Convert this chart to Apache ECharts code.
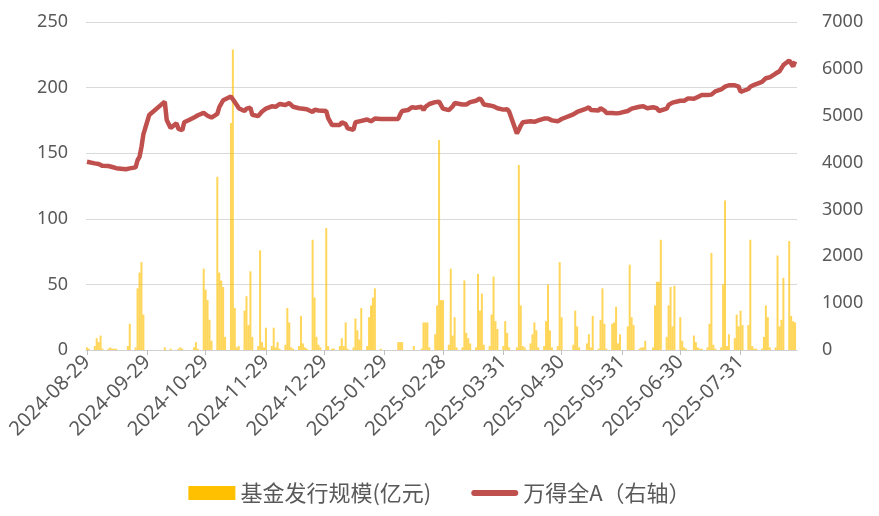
<!DOCTYPE html>
<html>
<head>
<meta charset="utf-8">
<script src="https://cdn.jsdelivr.net/npm/echarts@6/dist/echarts.min.js"></script>
<style>
  html, body { margin: 0; padding: 0; background: #fff; }
  #chart { width: 879px; height: 516px; }
</style>
</head>
<body>
<div id="chart"></div>
<script>
// 非交易日（周末以外）
var holidays = ['2024-09-16', '2024-09-17', '2024-10-01', '2024-10-02', '2024-10-03', '2024-10-04', '2024-10-07',
    '2025-01-01', '2025-01-28', '2025-01-29', '2025-01-30', '2025-01-31', '2025-02-03', '2025-02-04',
    '2025-04-04', '2025-05-01', '2025-05-02', '2025-05-05', '2025-06-02'];

var tickDates = ['2024-08-29', '2024-09-29', '2024-10-29', '2024-11-29', '2024-12-29', '2025-01-29',
    '2025-02-28', '2025-03-31', '2025-04-30', '2025-05-31', '2025-06-30', '2025-07-31'];

// 基金发行规模(亿元)，按月
var issue2408 = [2, 1];
var issue2409 = [3, 9, 6, 11, 1, 1, 2, 1, 1, 1, 0, 3, 20, 2, 47, 59, 67, 27, 0];
var issue2410 = [2, 0, 0, 1, 0, 1, 2, 1, 0, 0, 0, 2, 6, 1, 62, 46, 38, 23];
var issue2411 = [7, 132, 59, 53, 48, 10, 173, 229, 32, 2, 3, 30, 41, 19, 60, 10, 3, 76, 6, 2, 17];
var issue2412 = [3, 17, 2, 6, 1, 4, 32, 21, 2, 1, 3, 26, 5, 2, 1, 84, 40, 10, 4, 2, 93, 3];
var issue2501 = [1, 1, 3, 9, 3, 21, 1, 2, 24, 15, 8, 32, 3, 25, 34, 40, 47, 1];
var issue2502 = [6, 6, 6, 0, 0, 0, 3, 0, 1, 21, 21, 21, 2, 12, 34, 160, 38, 38];
var issue2503 = [4, 62, 11, 25, 2, 2, 53, 13, 9, 5, 2, 58, 30, 43, 4, 3, 27, 56, 22, 16, 3];
var issue2504 = [22, 13, 2, 2, 141, 34, 3, 2, 5, 12, 21, 15, 2, 3, 22, 50, 15, 2, 3, 67, 25];
var issue2505 = [4, 30, 18, 2, 0, 5, 12, 2, 26, 1, 23, 47, 20, 1, 20, 21, 33, 5, 12];
var issue2506 = [18, 65, 25, 19, 1, 2, 2, 7, 0, 2, 34, 52, 52, 84, 10, 34, 48, 18, 49, 25];
var issue2507 = [7, 2, 1, 0, 11, 6, 2, 1, 1, 2, 20, 74, 4, 1, 2, 50, 114, 3, 12, 9, 27, 18, 30];
var issue2508 = [19, 19, 84, 3, 1, 1, 1, 10, 34, 25, 2, 2, 72, 18, 23, 55, 83, 26, 22, 21];

// 万得全A（右轴），按月
var wind2408 = [4018, 3995];
var wind2409 = [3983, 3975, 3969, 3960, 3930, 3927, 3910, 3905, 3898, 3880, 3858, 3855, 3876, 3898, 4050, 4120, 4330, 4600, 5015];
var wind2410 = [5300, 4910, 4880, 4740, 4840, 4720, 4730, 4690, 4860, 4920, 4950, 4960, 4950, 5010, 5060, 5020, 5000, 5020];
var wind2411 = [4960, 5040, 5180, 5200, 5330, 5310, 5410, 5350, 5360, 5230, 5160, 5100, 5150, 5190, 5170, 5020, 4990, 4980, 5090, 5070, 5150];
var wind2412 = [5200, 5210, 5190, 5200, 5250, 5230, 5260, 5270, 5300, 5190, 5160, 5130, 5150, 5130, 5140, 5080, 5130, 5100, 5110, 5120, 5100, 4950];
var wind2501 = [4800, 4760, 4800, 4860, 4830, 4820, 4730, 4700, 4860, 4850, 4880, 4900, 4920, 4930, 4880, 4920, 4940, 4930];
var wind2502 = [4930, 5030, 5100, 5120, 5100, 5180, 5150, 5170, 5190, 5120, 5190, 5230, 5250, 5290, 5250, 5300, 5300, 5150];
var wind2503 = [5120, 5150, 5200, 5270, 5250, 5240, 5250, 5240, 5200, 5290, 5320, 5350, 5370, 5320, 5240, 5220, 5210, 5200, 5210, 5160, 5130];
var wind2504 = [5140, 5140, 5090, 4620, 4700, 4790, 4860, 4880, 4880, 4890, 4870, 4880, 4900, 4940, 4930, 4940, 4920, 4900, 4880, 4900, 4930];
var wind2505 = [5030, 5050, 5080, 5080, 5140, 5150, 5180, 5120, 5110, 5110, 5160, 5170, 5110, 5060, 5060, 5050, 5050, 5080, 5060];
var wind2506 = [5100, 5120, 5150, 5170, 5190, 5170, 5200, 5190, 5160, 5180, 5170, 5160, 5100, 5070, 5150, 5230, 5270, 5280, 5300, 5320];
var wind2507 = [5320, 5320, 5340, 5370, 5360, 5400, 5400, 5430, 5440, 5440, 5430, 5450, 5470, 5520, 5560, 5590, 5620, 5640, 5650, 5650, 5640, 5620, 5510];
var wind2508 = [5520, 5570, 5620, 5660, 5660, 5680, 5720, 5740, 5800, 5770, 5820, 5900, 5910, 5950, 5970, 6080, 6180, 6160, 6050, 6160];

var issueData = [].concat(issue2408, issue2409, issue2410, issue2411, issue2412, issue2501, issue2502,
    issue2503, issue2504, issue2505, issue2506, issue2507, issue2508);
var windData = [].concat(wind2408, wind2409, wind2410, wind2411, wind2412, wind2501, wind2502,
    wind2503, wind2504, wind2505, wind2506, wind2507, wind2508);

function pad(n) { return n < 10 ? '0' + n : '' + n; }
function fmt(d) { return d.getFullYear() + '-' + pad(d.getMonth() + 1) + '-' + pad(d.getDate()); }
function toTime(s) {
    var p = s.split('-');
    return new Date(+p[0], +p[1] - 1, +p[2]).getTime();
}

// 交易日
var tradeDays = [];
for (var d = new Date(2024, 7, 29); d <= new Date(2025, 7, 28); d.setDate(d.getDate() + 1)) {
    var wd = d.getDay();
    if (wd !== 0 && wd !== 6 && holidays.indexOf(fmt(d)) < 0) {
        tradeDays.push(d.getTime());
    }
}

var barSeries = tradeDays.map(function (t, i) { return [t, issueData[i]]; });
var lineSeries = tradeDays.map(function (t, i) { return [t, windData[i]]; });
var ticks = tickDates.map(toTime);

var font = "'Noto Sans', 'Noto Sans CJK SC', sans-serif";
var chart = echarts.init(document.getElementById('chart'));
chart.setOption({
    animation: false,
    backgroundColor: '#fff',
    textStyle: { fontFamily: font },
    grid: { left: 86, right: 82, top: 22, bottom: 166 },
    legend: {
        bottom: 7,
        left: 'center',
        itemWidth: 47,
        itemHeight: 14,
        itemGap: 40,
        textStyle: { color: '#595959', fontSize: 22, fontFamily: "'Noto Sans CJK SC', sans-serif" },
        data: [
            { name: '基金发行规模(亿元)', icon: 'rect', itemStyle: { color: '#FFC000', opacity: 1 } },
            {
                name: '万得全A（右轴）',
                icon: 'path://M3,0 H44 A3,3 0 0 1 44,6 H3 A3,3 0 0 1 3,0 Z',
                itemStyle: { color: '#C0504D' }
            }
        ]
    },
    xAxis: {
        type: 'value',
        min: new Date(2024, 7, 28, 12).getTime(),
        max: new Date(2025, 7, 29).getTime(),
        axisLine: { lineStyle: { color: '#d0d0d0' } },
        axisTick: { show: true, customValues: ticks, length: 5, lineStyle: { color: '#bfbfbf' } },
        axisLabel: {
            customValues: ticks,
            rotate: 45,
            color: '#595959',
            fontSize: 20,
            margin: 9,
            formatter: function (v) { return fmt(new Date(v)); }
        },
        splitLine: { show: false }
    },
    yAxis: [
        {
            type: 'value', min: 0, max: 250, interval: 50,
            axisLine: { show: false }, axisTick: { show: false },
            axisLabel: { color: '#595959', fontSize: 18, margin: 18 },
            splitLine: { lineStyle: { color: '#d9d9d9' } }
        },
        {
            type: 'value', min: 0, max: 7000, interval: 1000,
            axisLine: { show: false }, axisTick: { show: false },
            axisLabel: { color: '#595959', fontSize: 18, margin: 25, formatter: function (v) { return '' + v; } },
            splitLine: { show: false }
        }
    ],
    series: [
        {
            name: '基金发行规模(亿元)',
            type: 'bar',
            barWidth: 2,
            itemStyle: { color: 'rgba(255,192,0,0.65)' },
            data: barSeries
        },
        {
            name: '万得全A（右轴）',
            type: 'line',
            yAxisIndex: 1,
            symbol: 'none',
            lineStyle: { color: '#C0504D', width: 4.5 },
            itemStyle: { color: '#C0504D' },
            data: lineSeries
        }
    ]
});
</script>
</body>
</html>
